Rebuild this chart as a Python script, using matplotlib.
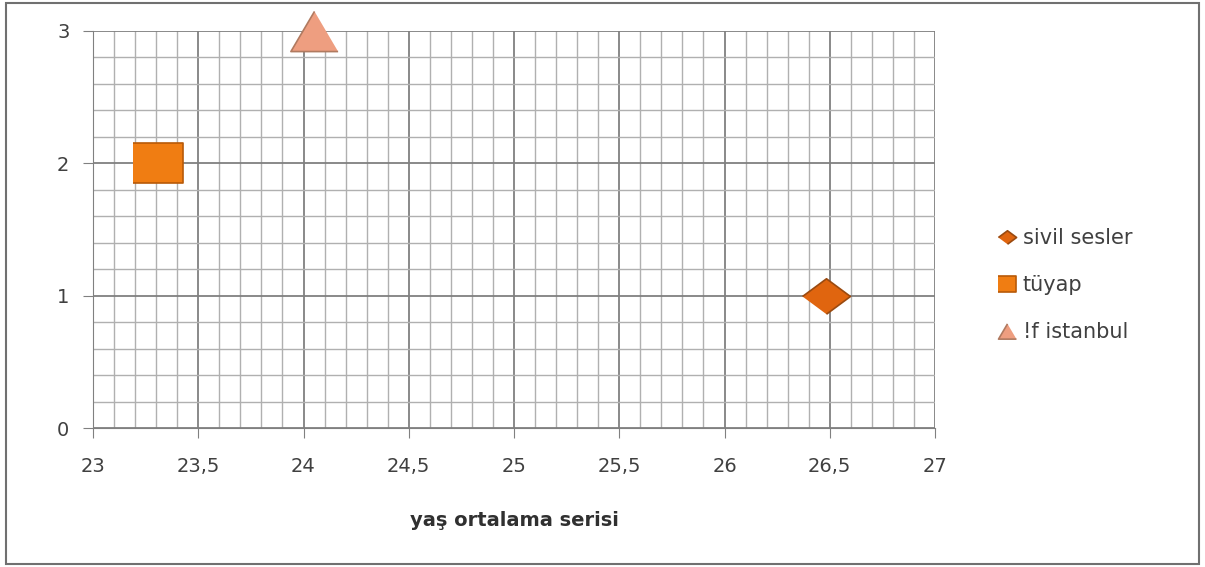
import matplotlib
matplotlib.use("Agg")
import matplotlib.pyplot as plt
from matplotlib.ticker import MultipleLocator, FuncFormatter
from matplotlib.patches import Rectangle

series = ["sivil sesler", "tüyap", "!f istanbul"]
x_vals = [26.48, 23.31, 24.05]
y_vals = [1, 2, 3]
x_label = "yaş ortalama serisi"

markers = [[(-1, 0), (0, 0.74), (1, 0), (0, -0.74)],
           [(-1, -0.83), (1, -0.83), (1, 0.83), (-1, 0.83)],
           [(0, 0.85), (-1, -0.85), (1, -0.85)]]
faces = ["#E0650F", "#F07D12", "#EE9E80"]
edges = ["#9A4A10", "#B85A08", "#B07A60"]
sizes = [34.5, 35.5, 34]

plt.rcParams['font.family'] = ['DejaVu Sans']
fig = plt.figure(figsize=(12.05, 5.67), dpi=100)
ax = fig.add_axes([93/1205, 1 - 428/567, (935-93)/1205, (428-31)/567])

for name, x, y, m, fc, ec, s in zip(series, x_vals, y_vals, markers, faces, edges, sizes):
    ax.plot([x], [y], linestyle="none", marker=m, markersize=s, markerfacecolor=fc,
            markeredgecolor=ec, markeredgewidth=1.2, label=name, clip_on=False, zorder=5)

ax.set_xlim(23, 27)
ax.set_ylim(0, 3)
ax.xaxis.set_major_locator(MultipleLocator(0.5))
ax.xaxis.set_minor_locator(MultipleLocator(0.1))
ax.yaxis.set_major_locator(MultipleLocator(1))
ax.yaxis.set_minor_locator(MultipleLocator(0.2))
ax.xaxis.set_major_formatter(FuncFormatter(lambda v, p: ("%g" % v).replace(".", ",")))
ax.yaxis.set_major_formatter(FuncFormatter(lambda v, p: "%g" % v))

ax.grid(which="major", color="#808080", linewidth=1.3)
ax.grid(which="minor", color="#b0b0b0", linewidth=1.0)
ax.set_axisbelow(True)
for s in ["top", "right"]:
    ax.spines[s].set_visible(False)
ax.spines["bottom"].set_color("#808080")
ax.spines["left"].set_color("#808080")
ax.tick_params(which="major", direction="out", length=7, color="#808080",
               labelsize=14, labelcolor="#404040")
ax.tick_params(axis="x", pad=14)
ax.tick_params(axis="y", pad=10)
ax.tick_params(which="minor", length=0)

ax.set_xlabel(x_label, fontsize=14, fontweight="bold", color="#303030", labelpad=25)

leg = ax.legend(loc="center left", bbox_to_anchor=((998-93)/842, (428-285)/397),
                frameon=False, fontsize=15, handlelength=0.9, handletextpad=0.3,
                labelspacing=1.3, markerscale=0.38, borderaxespad=0, borderpad=0)
for t in leg.get_texts():
    t.set_color("#404040")

fig.patches.append(Rectangle((0.005, 0.005), 0.99, 0.99, transform=fig.transFigure,
                             fill=False, edgecolor="#707070", linewidth=1.5))
fig.savefig("out.png", dpi=100)
